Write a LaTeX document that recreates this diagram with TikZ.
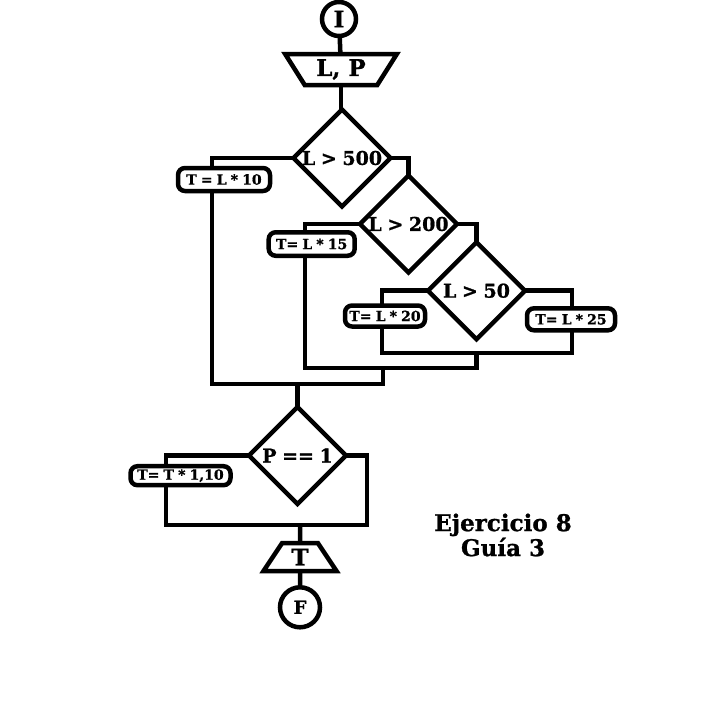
\documentclass[tikz,border=0pt]{standalone}
\usepackage{fontspec}
\setmainfont{DejaVu Serif}[BoldFeatures={FakeBold=1}]
\newfontfamily\flowfont{DejaVu Serif}[WordSpace=0.85, BoldFeatures={FakeBold=1}]
\usetikzlibrary{shapes.geometric}
\tikzset{
  flow/.style={line width=4.5pt},
  terminal/.style={flow, draw, circle, inner sep=0pt, outer sep=0pt},
  decision/.style={flow, draw, diamond, minimum width=97pt, minimum height=97pt, inner sep=0pt, outer sep=0pt, font=\flowfont\bfseries\fontsize{19}{21}\selectfont},
  assign/.style={flow, draw, fill=white, rounded corners=7pt, inner sep=0pt, outer sep=0pt, font=\flowfont\bfseries\fontsize{14}{16}\selectfont},
  io/.style={flow, draw, trapezium, trapezium stretches=true, inner sep=0pt, outer sep=0pt, font=\bfseries\fontsize{23}{25}\selectfont}
}
\begin{document}
\begin{tikzpicture}[x=1pt, y=-1pt]
		\useasboundingbox[fill=white] (0,0) rectangle (704,704);
		\node[terminal, minimum size=34pt, font=\bfseries\fontsize{23}{25}\selectfont] (start) at (339,19) {I};
		\node[io, shape border rotate=180, trapezium angle=57, minimum width=112pt, minimum height=31pt] (inLP) at (341,69.5) {L, P};
		\node[decision] (d500) at (342,158) {L > 500};
		\node[assign, minimum width=92pt, minimum height=23pt] (b10) at (224,179.5) {T = L * 10};
		\node[decision] (d200) at (408.5,224) {L > 200};
		\node[assign, minimum width=86pt, minimum height=23.5pt] (b15) at (311.7,244) {T= L * 15};
		\node[decision] (d50) at (476.5,290.7) {L > 50};
		\node[assign, minimum width=80pt, minimum height=21pt] (b20) at (385,316) {T= L * 20};
		\node[assign, minimum width=88pt, minimum height=22pt] (b25) at (571,319.3) {T= L * 25};
		\node[decision] (dP) at (297.5,455.5) {P == 1};
		\node[assign, minimum width=100pt, minimum height=19pt] (b110) at (180.5,475.7) {T= T * 1,10};
		\node[io, trapezium angle=62, minimum width=73pt, minimum height=28pt] (outT) at (300,557) {T};
		\node[terminal, minimum size=40pt, font=\bfseries\fontsize{18}{20}\selectfont] (fin) at (300,607.3) {F};
		\node[align=center, font=\bfseries\fontsize{23}{25}\selectfont] (title) at (503,535) {Ejercicio 8\\Guía 3};
		\coordinate (c10) at (212,384);
		\coordinate (c15) at (305,368);
		\coordinate (c20) at (382,353);
		\coordinate (c25) at (572,353);
		\coordinate (j50) at (476.5,353);
		\coordinate (j200) at (383,368);
		\coordinate (j500) at (297.5,384);
		\coordinate (c110) at (166,525);
		\coordinate (cP) at (367,525);
		\coordinate (jP) at (300,525);
		\draw[flow] (start) -- (inLP);
		\draw[flow] (inLP.south) -- (inLP.south |- d500.north);
		\draw[flow] (d500.west) -| (b10.north -| c10);
		\draw[flow] (d500.east) -| (d200.north);
		\draw[flow] (d200.west) -| (b15.north -| c15);
		\draw[flow] (d200.east) -| (d50.north);
		\draw[flow] (d50.west) -| (b20.north -| c20);
		\draw[flow] (d50.east) -| (b25.north -| c25);
		\draw[flow] (b20.south -| c20) -- (c20) -- (c25) -- (b25.south -| c25);
		\draw[flow] (b15.south -| c15) -- (c15) -- (c15 -| j50) -- (j50);
		\draw[flow] (b10.south -| c10) -- (c10) -- (c10 -| j200) -- (j200);
		\draw[flow] (j500) -- (dP.north);
		\draw[flow] (dP.west) -| (b110.north -| c110);
		\draw[flow] (b110.south -| c110) -- (c110) -- (cP) |- (dP.east);
		\draw[flow] (jP) -- (outT.north);
		\draw[flow] (outT.south) -- (fin.north);
	\end{tikzpicture}
\end{document}
